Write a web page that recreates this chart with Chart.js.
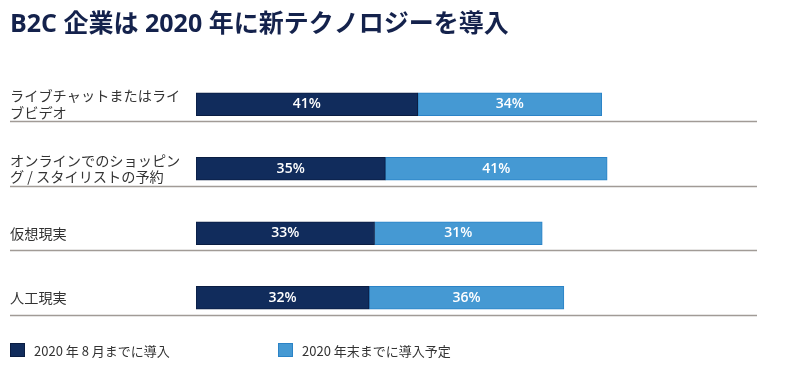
<!DOCTYPE html>
<html><head><meta charset="utf-8">
<script src="https://cdn.jsdelivr.net/npm/chart.js@4"></script>
<style>html,body{margin:0;padding:0;background:#fff}</style>
</head><body>
<canvas id="c" width="800" height="383"></canvas>
<script>
const titleText = 'B2C 企業は 2020 年に新テクノロジーを導入';
const categories = [
  ['ライブチャットまたはライ', 'ブビデオ'],
  ['オンラインでのショッピン', 'グ / スタイリストの予約'],
  '仮想現実',
  '人工現実'
];
const seriesNames = ['2020 年 8 月までに導入', '2020 年末までに導入予定'];
const adoptedByAug = [41, 35, 33, 32];
const plannedByYearEnd = [34, 41, 31, 36];

const DARK = '#112c5c', DARK_BORDER = '#0a1d42';
const LIGHT = '#4599d3', LIGHT_BORDER = '#2b83c6';
const JP = "'Noto Sans CJK JP', 'Noto Sans', sans-serif";

const segmentLabels = {
  id: 'segmentLabels',
  afterDatasetsDraw(chart) {
    const ctx = chart.ctx;
    ctx.save();
    ctx.fillStyle = '#ffffff';
    ctx.font = "600 14px 'Open Sans', sans-serif";
    ctx.textAlign = 'center';
    ctx.textBaseline = 'middle';
    chart.data.datasets.forEach((ds, di) => {
      chart.getDatasetMeta(di).data.forEach((bar, i) => {
        ctx.fillText(ds.data[i] + '%', (bar.x + bar.base) / 2, bar.y);
      });
    });
    ctx.restore();
  }
};

const separators = {
  id: 'separators',
  afterDraw(chart) {
    const ctx = chart.ctx, y = chart.scales.y;
    ctx.save();
    ctx.strokeStyle = '#a19b96';
    ctx.lineWidth = 1.5;
    categories.forEach((c, i) => {
      const py = Math.round(y.getPixelForValue(i)) + 17.5;
      ctx.beginPath();
      ctx.moveTo(10, py);
      ctx.lineTo(757, py);
      ctx.stroke();
    });
    ctx.restore();
  }
};

const customLegend = {
  id: 'customLegend',
  afterDraw(chart) {
    const ctx = chart.ctx;
    const xs = [10, 278];
    const cy = 350;
    ctx.save();
    ctx.font = '13px ' + JP;
    ctx.textBaseline = 'middle';
    ctx.textAlign = 'left';
    chart.data.datasets.forEach((ds, i) => {
      ctx.fillStyle = ds.backgroundColor;
      ctx.fillRect(xs[i], cy - 7, 15, 14);
      ctx.strokeStyle = ds.borderColor;
      ctx.lineWidth = 1;
      ctx.strokeRect(xs[i] + 0.5, cy - 6.5, 14, 13);
      ctx.fillStyle = '#333333';
      ctx.fillText(ds.label, xs[i] + 24, cy + 1);
    });
    ctx.restore();
  }
};

new Chart(document.getElementById('c'), {
  type: 'bar',
  data: {
    labels: categories,
    datasets: [
      { label: seriesNames[0], data: adoptedByAug, backgroundColor: DARK, borderColor: DARK_BORDER,
        borderWidth: 1, borderSkipped: false, barThickness: 23 },
      { label: seriesNames[1], data: plannedByYearEnd, backgroundColor: LIGHT, borderColor: LIGHT_BORDER,
        borderWidth: 1, borderSkipped: false, barThickness: 23 }
    ]
  },
  options: {
    indexAxis: 'y',
    responsive: false,
    animation: false,
    devicePixelRatio: 1,
    layout: { padding: { left: 10, right: 63, top: 0, bottom: 53 } },
    scales: {
      x: { stacked: true, min: 0, max: 100, display: false },
      y: {
        stacked: true,
        grid: { display: false },
        border: { display: false },
        afterFit(scale) { scale.width = 186; },
        ticks: {
          crossAlign: 'far',
          color: '#333333',
          font: { family: JP, size: 14.2, lineHeight: 1.15 }
        }
      }
    },
    plugins: {
      legend: { display: false },
      tooltip: { enabled: false },
      title: {
        display: true,
        text: titleText,
        align: 'start',
        color: '#14224c',
        font: { family: "'Open Sans', 'Noto Sans CJK JP', sans-serif", size: 25, weight: 'bold', lineHeight: 1.2 },
        padding: { top: 10, bottom: 32 }
      }
    }
  },
  plugins: [segmentLabels, separators, customLegend]
});
</script>
</body></html>
